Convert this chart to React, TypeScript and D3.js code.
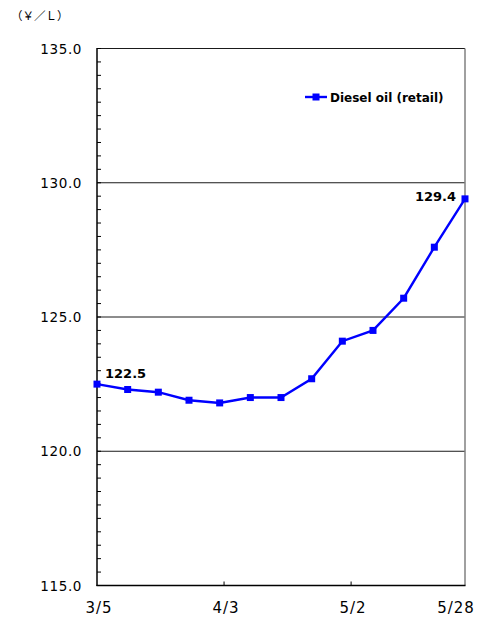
import React from "react";
import * as d3 from "d3";

const dates = ["2007-03-05","2007-03-12","2007-03-19","2007-03-26","2007-04-02","2007-04-09","2007-04-16","2007-04-23","2007-04-30","2007-05-07","2007-05-14","2007-05-21","2007-05-28"];
const dieselValues = [122.5, 122.3, 122.2, 121.9, 121.8, 122.0, 122.0, 122.7, 124.1, 124.5, 125.7, 127.6, 129.4];
const xTickDates = ["2007-03-05","2007-04-03","2007-05-02","2007-05-28"];
const xTickLabels = ["3/5","4/3","5/2","5/28"];
const yTicks = [115, 120, 125, 130, 135];
const gridValues = [120, 125, 130, 135];
const seriesName = "Diesel oil (retail)";
const unitLabel = "（￥／Ｌ）";

const parse = (s: string) => { const [y, m, d] = s.split("-").map(Number); return new Date(y, m - 1, d); };

export default function App() {
  const W = 488, H = 618;
  const x = d3.scaleTime().domain([parse(dates[0]), parse(dates[dates.length - 1])]).range([97, 465]);
  const y = d3.scaleLinear().domain([115, 135]).range([585.5, 48.5]);
  const pts = dates.map((d, i) => [x(parse(d)), y(dieselValues[i])] as [number, number]);
  const line = d3.line()(pts) || "";
  const minor = d3.range(115, 135.01, 0.5);
  const numFont = "'DejaVu Sans', sans-serif";
  const first = pts[0], last = pts[pts.length - 1];
  return (
    <svg width={W} height={H} style={{ position: "absolute", left: 0, top: 0, background: "#fff" }}>
      <rect x={0} y={0} width={W} height={H} fill="#fff" />
      <text x={11} y={20} fontSize={11.5} fontFamily="'Noto Sans CJK JP', sans-serif" fill="#000">{unitLabel}</text>
      {gridValues.map(v => (
        <line key={v} x1={97} x2={465} y1={y(v)} y2={y(v)} stroke="#1a1a1a" strokeWidth={1} />
      ))}
      <line x1={465} x2={465} y1={y(135)} y2={y(115)} stroke="#808080" strokeWidth={1.5} />
      {minor.map(v => (
        <line key={v} x1={97} x2={101} y1={y(v)} y2={y(v)} stroke="#000" strokeWidth={1} />
      ))}
      {xTickDates.slice(1, 3).map(d => (
        <line key={d} x1={x(parse(d))} x2={x(parse(d))} y1={y(115)} y2={y(115) - 4} stroke="#000" strokeWidth={1} />
      ))}
      <line x1={97} x2={97} y1={y(135) - 0.5} y2={y(115) + 0.5} stroke="#000" strokeWidth={1.5} />
      <line x1={96.5} x2={465.5} y1={y(115)} y2={y(115)} stroke="#000" strokeWidth={1.5} />
      {yTicks.map(v => (
        <text key={v} x={82} y={y(v) + 5} textAnchor="end" fontSize={13.5} letterSpacing={0.6} fontFamily={numFont} fill="#000">{v.toFixed(1)}</text>
      ))}
      {xTickDates.map((d, i) => {
        const px = x(parse(d));
        const isLast = i === xTickDates.length - 1;
        return (
          <text key={d} x={isLast ? px - 9 : px + 2} y={613} textAnchor="middle" fontSize={15} letterSpacing={1} fontFamily={numFont} fill="#000">{xTickLabels[i]}</text>
        );
      })}
      <path d={line} fill="none" stroke="#0000ff" strokeWidth={2.4} />
      {pts.map((p, i) => (
        <rect key={i} x={p[0] - 3.5} y={p[1] - 3.5} width={7} height={7} fill="#0000ff" />
      ))}
      <text x={first[0] + 8} y={first[1] - 6} fontSize={13} fontWeight="bold" fontFamily={numFont} fill="#000">{dieselValues[0].toFixed(1)}</text>
      <text x={last[0] - 9} y={last[1] + 2} textAnchor="end" fontSize={13} fontWeight="bold" fontFamily={numFont} fill="#000">{dieselValues[dieselValues.length - 1].toFixed(1)}</text>
      <line x1={305} x2={327} y1={97} y2={97} stroke="#0000ff" strokeWidth={2.4} />
      <rect x={312.5} y={93.5} width={7} height={7} fill="#0000ff" />
      <text x={330} y={101.5} fontSize={12} fontWeight="bold" fontFamily={numFont} fill="#000">{seriesName}</text>
    </svg>
  );
}
